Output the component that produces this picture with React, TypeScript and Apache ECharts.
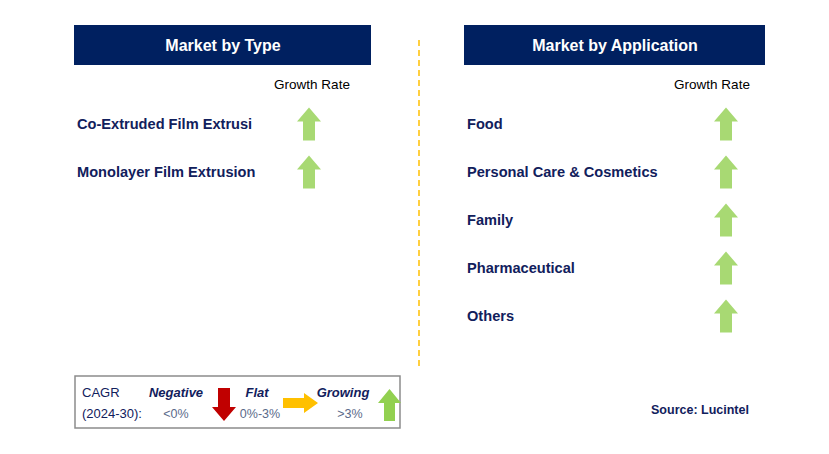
import React, { useEffect, useRef } from "react";
import * as echarts from "echarts";

const typeSegments = ["Co-Extruded Film Extrusion", "Monolayer Film Extrusion"];
const typeGrowth = ["Growing", "Growing"];
const appSegments = ["Food", "Personal Care & Cosmetics", "Family", "Pharmaceutical", "Others"];
const appGrowth = ["Growing", "Growing", "Growing", "Growing", "Growing"];
const growthColumn = ["Growth Rate"];
const panelTitles = ["Market by Type", "Market by Application"];
const legendLabels = ["Negative", "Flat", "Growing"];
const legendRanges = ["<0%", "0%-3%", ">3%"];

const NAVY = "#002060";
const TEXT_NAVY = "#11205c";
const UP = "path://M12,0 L24,14 L18,14 L18,33 L6,33 L6,14 L0,14 Z";
const DOWN = "path://M6,0 L18,0 L18,19 L24,19 L12,33 L0,19 L6,19 Z";
const RIGHT = "path://M0,5 L21,5 L21,0 L35,10 L21,20 L21,15 L0,15 Z";
const symbolFor = (g: string) => (g === "Growing" ? UP : g === "Negative" ? DOWN : RIGHT);
const colorFor = (g: string) => (g === "Growing" ? "#92d050" : g === "Negative" ? "#c00000" : "#ffc000");

export default function App() {
  const ref = useRef<HTMLDivElement>(null);
  useEffect(() => {
    if (!ref.current) return;
    const chart = echarts.init(ref.current, undefined, { renderer: "svg" });
    const font = "'Liberation Sans', Arial, sans-serif";
    const yAxisBase = (data: string[], margin: number, width: number, idx: number) => ({
      type: "category",
      gridIndex: idx,
      data,
      inverse: true,
      axisLine: { show: false },
      axisTick: { show: false },
      splitLine: { show: false },
      axisLabel: {
        align: "left",
        margin,
        width,
        overflow: "truncate",
        ellipsis: "",
        fontFamily: font,
        fontWeight: "bold",
        fontSize: 14.6,
        color: TEXT_NAVY,
      },
    });
    const xAxisBase = (idx: number, padding: number[]) => ({
      type: "category",
      gridIndex: idx,
      data: growthColumn,
      position: "top",
      axisLine: { show: false },
      axisTick: { show: false },
      splitLine: { show: false },
      axisLabel: { margin: 9, padding, fontFamily: font, fontSize: 13.5, color: "#000" },
    });
    const seriesFor = (segs: string[], growth: string[], idx: number) => ({
      type: "scatter",
      xAxisIndex: idx,
      yAxisIndex: idx,
      symbolSize: [24, 33],
      data: segs.map((s, i) => ({
        value: [growthColumn[0], s],
        symbol: symbolFor(growth[i]),
        itemStyle: { color: colorFor(growth[i]) },
      })),
    });
    const legendX = [176, 257, 343];
    const rangeX = [176, 260, 350];
    chart.setOption({
      animation: false,
      backgroundColor: "#ffffff",
      grid: [
        { left: 297, width: 24, top: 100, height: 96 },
        { left: 714, width: 24, top: 100, height: 240 },
      ],
      xAxis: [xAxisBase(0, [0, 0, 0, 6]), xAxisBase(1, [0, 28, 0, 0])],
      yAxis: [yAxisBase(typeSegments, 220, 181, 0), yAxisBase(appSegments, 247, 192, 1)],
      series: [seriesFor(typeSegments, typeGrowth, 0), seriesFor(appSegments, appGrowth, 1)],
      graphic: [
        { type: "rect", shape: { x: 74, y: 25, width: 297, height: 40 }, style: { fill: NAVY } },
        { type: "rect", shape: { x: 464, y: 25, width: 301, height: 40 }, style: { fill: NAVY } },
        {
          type: "text", x: 223, y: 45,
          style: { text: panelTitles[0], fill: "#fff", font: `bold 16px ${font}`, align: "center", verticalAlign: "middle" },
        },
        {
          type: "text", x: 615, y: 45,
          style: { text: panelTitles[1], fill: "#fff", font: `bold 16px ${font}`, align: "center", verticalAlign: "middle" },
        },
        {
          type: "line", shape: { x1: 419, y1: 40, x2: 419, y2: 366 },
          style: { stroke: "#ffc000", lineWidth: 1.5, lineDash: [6, 4] },
        },
        {
          type: "rect", shape: { x: 75, y: 376, width: 325, height: 52 },
          style: { fill: "none", stroke: "#8c8c8c", lineWidth: 1.5 },
        },
        { type: "text", x: 82, y: 392, style: { text: "CAGR", fill: TEXT_NAVY, font: `13px ${font}`, verticalAlign: "middle" } },
        { type: "text", x: 82, y: 413, style: { text: "(2024-30):", fill: TEXT_NAVY, font: `13px ${font}`, verticalAlign: "middle" } },
        ...legendLabels.map((t, i) => ({
          type: "text", x: legendX[i], y: 392,
          style: { text: t, fill: TEXT_NAVY, font: `italic bold 13px ${font}`, align: "center", verticalAlign: "middle" },
        })),
        ...legendRanges.map((t, i) => ({
          type: "text", x: rangeX[i], y: 414,
          style: { text: t, fill: "#5a6a8a", font: `12.5px ${font}`, align: "center", verticalAlign: "middle" },
        })),
        {
          type: "polygon",
          shape: { points: [[218, 388], [230, 388], [230, 407], [236, 407], [224, 421], [212, 407], [218, 407]] },
          style: { fill: "#c00000" },
        },
        {
          type: "polygon",
          shape: { points: [[283, 398], [304, 398], [304, 393], [318, 403], [304, 413], [304, 408], [283, 408]] },
          style: { fill: "#ffc000" },
        },
        {
          type: "polygon",
          shape: { points: [[389.5, 389], [401, 403], [395, 403], [395, 421], [384, 421], [384, 403], [378, 403]] },
          style: { fill: "#92d050" },
        },
        {
          type: "text", x: 700, y: 410,
          style: { text: "Source: Lucintel", fill: TEXT_NAVY, font: `bold 12.5px ${font}`, align: "center", verticalAlign: "middle" },
        },
      ],
    });
    return () => chart.dispose();
  }, []);
  return <div ref={ref} style={{ position: "fixed", left: 0, top: 0, width: 829, height: 454 }} />;
}
